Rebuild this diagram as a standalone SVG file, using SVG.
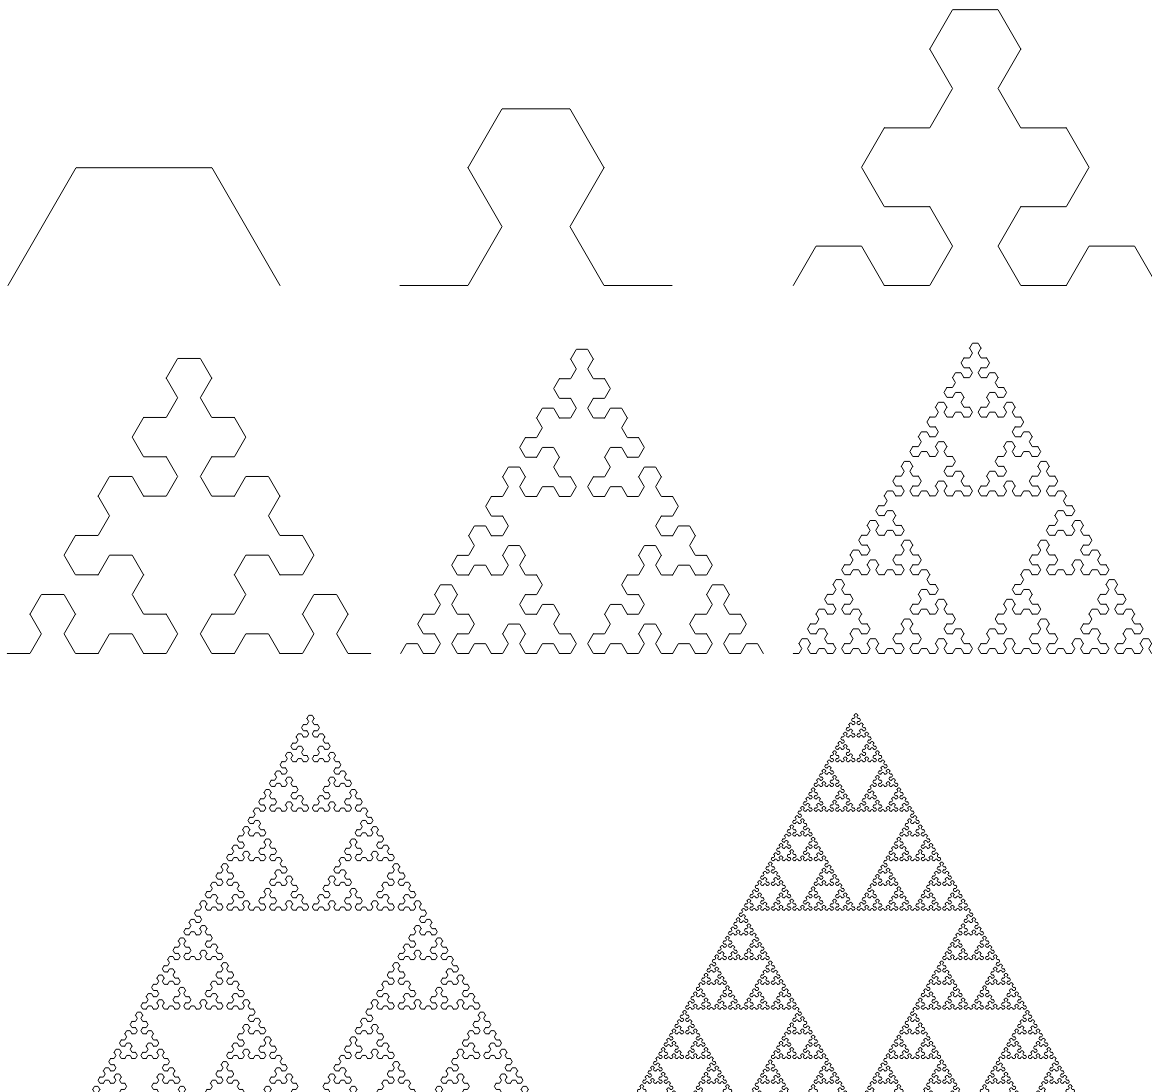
<svg xmlns="http://www.w3.org/2000/svg" xmlns:xlink="http://www.w3.org/1999/xlink" width="1152" height="1092" viewBox="0 0 1152 1092">
<style>
.seg{fill:none;stroke:#000;stroke-width:1;stroke-linecap:round;stroke-linejoin:round;vector-effect:non-scaling-stroke}
</style>
<defs>
<polyline id="c1" class="seg" points="0,0 0.25,-0.4330127 0.75,-0.4330127 1,0"/>
<g id="c2"><use href="#c1" transform="rotate(-60) scale(0.5,-0.5)"/><use href="#c1" transform="translate(0.25,-0.4330127) scale(0.5)"/><use href="#c1" transform="translate(0.75,-0.4330127) rotate(60) scale(0.5,-0.5)"/></g>
<g id="c3"><use href="#c2" transform="rotate(-60) scale(0.5,-0.5)"/><use href="#c2" transform="translate(0.25,-0.4330127) scale(0.5)"/><use href="#c2" transform="translate(0.75,-0.4330127) rotate(60) scale(0.5,-0.5)"/></g>
<g id="c4"><use href="#c3" transform="rotate(-60) scale(0.5,-0.5)"/><use href="#c3" transform="translate(0.25,-0.4330127) scale(0.5)"/><use href="#c3" transform="translate(0.75,-0.4330127) rotate(60) scale(0.5,-0.5)"/></g>
<g id="c5"><use href="#c4" transform="rotate(-60) scale(0.5,-0.5)"/><use href="#c4" transform="translate(0.25,-0.4330127) scale(0.5)"/><use href="#c4" transform="translate(0.75,-0.4330127) rotate(60) scale(0.5,-0.5)"/></g>
<g id="c6"><use href="#c5" transform="rotate(-60) scale(0.5,-0.5)"/><use href="#c5" transform="translate(0.25,-0.4330127) scale(0.5)"/><use href="#c5" transform="translate(0.75,-0.4330127) rotate(60) scale(0.5,-0.5)"/></g>
<g id="c7"><use href="#c6" transform="rotate(-60) scale(0.5,-0.5)"/><use href="#c6" transform="translate(0.25,-0.4330127) scale(0.5)"/><use href="#c6" transform="translate(0.75,-0.4330127) rotate(60) scale(0.5,-0.5)"/></g>
<g id="c8"><use href="#c7" transform="rotate(-60) scale(0.5,-0.5)"/><use href="#c7" transform="translate(0.25,-0.4330127) scale(0.5)"/><use href="#c7" transform="translate(0.75,-0.4330127) rotate(60) scale(0.5,-0.5)"/></g>
</defs>
<g id="order1"><use href="#c1" transform="translate(8,285.5) scale(272)"/></g>
<g id="order2"><use href="#c2" transform="translate(400,285.5) scale(272)"/></g>
<g id="order3"><use href="#c3" transform="translate(793.3,285.5) scale(364)"/></g>
<g id="order4"><use href="#c4" transform="translate(7.3,653.5) scale(363.4)"/></g>
<g id="order5"><use href="#c5" transform="translate(400.7,653.5) scale(362.6)"/></g>
<g id="order6"><use href="#c6" transform="translate(793.3,653.5) scale(364)"/></g>
<g id="order7"><use href="#c7" transform="translate(82,1108) scale(457)"/></g>
<g id="order8"><use href="#c8" transform="translate(627.5,1108) scale(457)"/></g>
<g id="connectors"/>
</svg>
